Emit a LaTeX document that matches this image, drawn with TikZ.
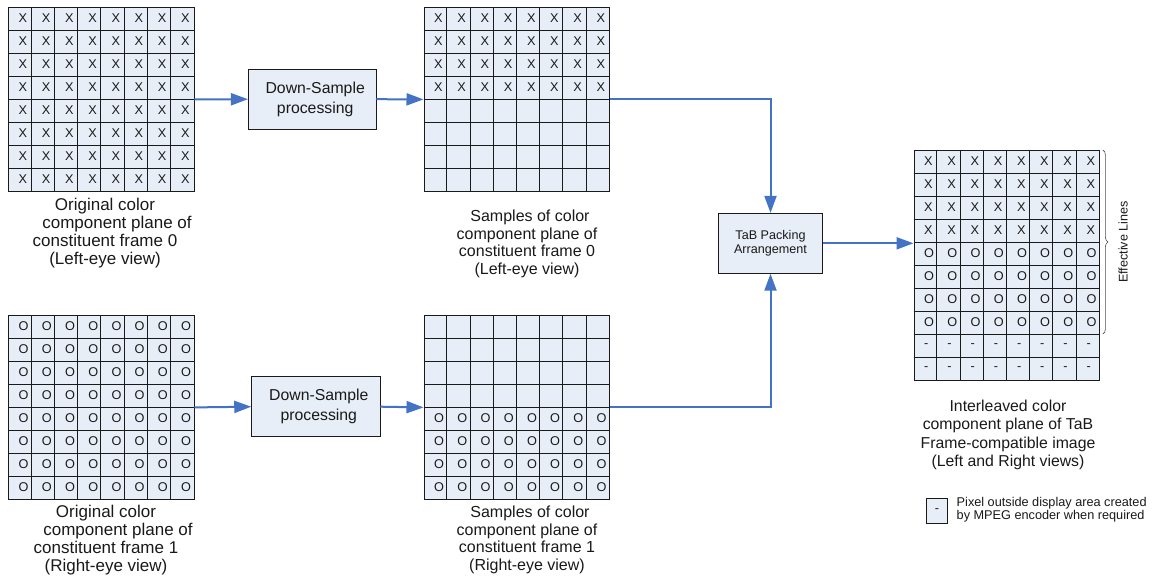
\documentclass[tikz,border=0pt]{standalone}
\usepackage{fontspec}
\setmainfont{Liberation Sans}
\usetikzlibrary{arrows.meta,decorations.pathreplacing,calc}

\definecolor{cellfill}{HTML}{E8EEF7}
\definecolor{flowblue}{HTML}{4472C4}
\definecolor{inkline}{HTML}{1A1A1A}

% let stacked caption lines sit closer than their glyph boxes
\lineskiplimit=-50pt

\newcommand\cw{23.2}% cell width
\newcommand\ch{23}% cell height

\tikzset{
  planeframe/.style={draw=inkline, fill=cellfill, line width=0.8pt, inner sep=0pt},
  cellline/.style={draw=inkline, line width=0.7pt},
  pixmark/.style={anchor=west, inner sep=0pt, text=black!90, font=\fontsize{12.7}{13}\selectfont},
  procbox/.style={draw=inkline, fill=cellfill, line width=0.8pt, inner sep=0pt, align=center, text=black!90},
  caption/.style={inner sep=0pt, align=center, text=black!90, font=\fontsize{16}{17.5}\selectfont},
  bigcaption/.style={caption, font=\fontsize{17}{17.8}\selectfont},
  flow/.style={draw=flowblue, line width=2pt, -{Triangle[length=17pt,width=12pt]}},
}

% an 8-column plane of pixel cells: name, left, top, rows
\newcommand\pixplane[4]{%
  \node[planeframe, anchor=north west, minimum width={8*\cw*1pt}, minimum height={#4*\ch*1pt}] (#1) at (#2,#3) {};
  \foreach \c in {1,...,7}
    \draw[cellline] ({#2+\c*\cw},#3) -- ++(0,{#4*\ch});
  \pgfmathtruncatemacro\lastrow{#4-1}
  \foreach \r in {1,...,\lastrow}
    \draw[cellline] (#2,{#3+\r*\ch}) -- ++({8*\cw},0);
}

% sample marks in a range of rows: name, left, top, first row, last row, mark
\newcommand\pixrows[6]{%
  \foreach \r in {#4,...,#5}
    \foreach \c in {0,...,7}
      \node[pixmark] (#1-\r-\c) at ({#2+\c*\cw+10.5},{#3+\r*\ch+11.5}) {#6};
}

\begin{document}
\begin{tikzpicture}[x=1pt, y=-1pt]
\useasboundingbox (0,0) rectangle (1154,582);

% left eye: original plane and its samples
\pixplane{orig0}{8}{7}{8}
\pixrows{orig0}{8}{7}{0}{7}{X}
\pixplane{samp0}{423.5}{7}{8}
\pixrows{samp0}{423.5}{7}{0}{3}{X}

% right eye: original plane and its samples
\pixplane{orig1}{8}{315}{8}
\pixrows{orig1}{8}{315}{0}{7}{O}
\pixplane{samp1}{423.5}{315}{8}
\pixrows{samp1}{423.5}{315}{4}{7}{O}

% packed top-and-bottom plane
\pixplane{packed}{913.5}{150}{10}
\pixrows{packed}{913.5}{150}{0}{3}{X}
\pixrows{packed}{913.5}{150}{4}{7}{O}
\pixrows{packed}{913.5}{150}{8}{9}{-}

% processing blocks
\node[procbox, minimum width=127.7pt, minimum height=60.3pt,
      font=\fontsize{15.8}{20}\selectfont] (down0) at (312.2,99.2) {\hspace*{6pt}Down-Sample\\\hspace*{6pt}processing};
\node[procbox, minimum width=128.3pt, minimum height=60pt,
      font=\fontsize{15.8}{20}\selectfont] (down1) at (315.8,406.7) {\hspace*{6pt}Down-Sample\\\hspace*{6pt}processing};
\node[procbox, minimum width=104.4pt, minimum height=60pt,
      font=\fontsize{12.6}{14.7}\selectfont] (tab) at (770.5,243.3) {TaB Packing\\Arrangement};

% data flow
\draw[flow] (orig0.east) -- (down0.west);
\draw[flow] (down0.east) -- (samp0.west);
\draw[flow] (samp0.east) -| (tab.north);
\draw[flow] (orig1.east) -- (down1.west);
\draw[flow] (down1.east) -- (samp1.west);
\draw[flow] (samp1.east) -| (tab.south);
\draw[flow] (tab.east) -- (tab.east -| packed.west);

% effective lines bracket
\coordinate (effTop) at ($(packed.north east)+(3,0)$);
\coordinate (effBot) at ($(packed.north east)+(3,{8*\ch})$);
\draw[black!70, line width=0.6pt, decorate, decoration={brace, amplitude=5pt}] (effTop) -- (effBot);
\node[rotate=90, inner sep=0pt, text=black!90, font=\fontsize{12.6}{13}\selectfont] (eff) at (1123,242) {Effective Lines};

% captions
\node[bigcaption] (cap0) at (105,233) {Original color\\\hspace*{24pt}component plane of\\constituent frame 0\\(Left-eye view)};
\node[caption] (capS0) at (527,244) {\hspace*{6pt}Samples of color\\component plane of\\constituent frame 0\\(Left-eye view)};
\node[bigcaption] (cap1) at (106,540) {Original color\\\hspace*{24pt}component plane of\\constituent frame 1\\(Right-eye view)};
\node[caption] (capS1) at (527,540) {\hspace*{6pt}Samples of color\\component plane of\\constituent frame 1\\(Right-eye view)};
\node[caption, font=\fontsize{15.8}{18.3}\selectfont] (capP) at (1008,435) {Interleaved color\\component plane of TaB\\Frame-compatible image\\(Left and Right views)};

% legend
\node[procbox, minimum width=20.6pt, minimum height=25pt, font=\fontsize{12.7}{13}\selectfont] (legbox) at (937,510.8) {-};
\node[anchor=west, inner sep=0pt, align=left, text=black!90, font=\fontsize{12.7}{12.7}\selectfont] (legtxt) at (956.5,509.7) {Pixel outside display area created\\by MPEG encoder when required};
\end{tikzpicture}
\end{document}
